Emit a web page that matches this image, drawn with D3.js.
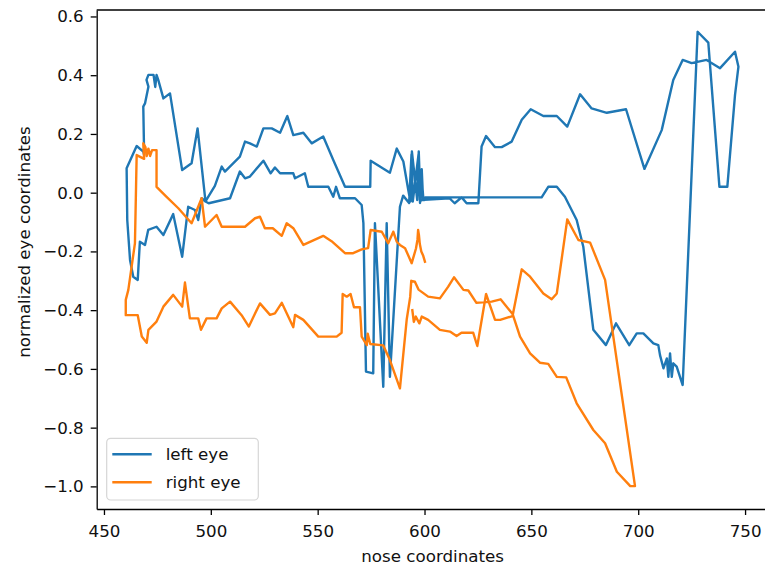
<!DOCTYPE html>
<html>
<head>
<meta charset="utf-8">
<script src="https://cdn.jsdelivr.net/npm/d3@7"></script>
<style>
  body { margin: 0; background: #fff; }
  svg { display: block; font-family: "DejaVu Sans", sans-serif; }
</style>
</head>
<body>
<div id="chart"></div>
<script>
const w = 765;
const h = 567;

// nose x coordinate and normalized eye value
const leftEyeX = [598.5, 611.7, 614.1, 617.4, 619.7, 625.2,
  626.7, 628.8, 633, 636.1, 640.8, 645.5, 649.7, 655.6, 661.9, 666.8, 672.8, 678.2, 685.3, 694.3,
  702.9, 711, 716.4, 720.8, 725, 732, 738.3, 745.3, 746.9, 745.3, 741.7, 738, 732.8, 727.8, 720.8,
  718, 716.4, 715.7, 714.9, 714.1, 713.4, 711.8, 710.2, 709.4, 707.1, 702.4, 699.3, 695.8, 689.6,
  684.9, 679, 674.3, 671.2, 665.7, 661.9, 657.9, 654.8, 600.5,
  599.3, 598.7, 598.1, 597.3, 596.6, 594.1, 593.4, 592.4,
  590.1, 587, 583.8, 574.8, 574.6, 562.8, 557.3, 552.6, 547.2, 543.3, 538.6, 535.8, 532.4, 528.5,
  524.6, 521.5, 518.3, 516, 513.6, 506.6, 505.1, 501.9, 497.5,
  493.8, 491, 486.6, 480.9, 477.8, 475.4, 474.6, 474, 473.2, 470.8, 469.9, 470.8, 469.2, 468.4,
  468.8, 468.4, 465.3, 460.6,
  460.9, 462.2, 463.7, 465.8, 466.8, 469.2, 470.7, 474.6, 477.8, 482.4, 486.6, 489.4, 492.6, 494.1,
  495.7, 497.5,
  499, 509, 513.6, 516, 518.3, 524.6, 528, 530, 532.4, 538.6, 539.4, 544, 545.6, 555, 557.3, 558.6,
  560.4, 567.5, 570.6, 571.4, 572.6, 576, 576.8, 580.7, 582.3, 583.8, 588.5,
  590, 592.8, 593.9, 594.5, 597.2, 597.9, 598.6, 599.5];
const leftEyeY = [-0.025, -0.019, -0.036, -0.016, -0.036, -0.036,
  0.157, 0.193, 0.155, 0.155, 0.174, 0.248, 0.284, 0.261, 0.261, 0.225, 0.335, 0.287, 0.272, 0.284,
  0.081, 0.213, 0.384, 0.452, 0.441, 0.452, 0.424, 0.480, 0.429, 0.333, 0.020, 0.020, 0.511, 0.548, -0.655,
  -0.592, -0.581, -0.627, -0.547, -0.627, -0.564, -0.598, -0.553, -0.519, -0.513, -0.479, -0.479, -0.519, -0.445,
  -0.519, -0.467, -0.184, -0.093, -0.014, 0.020, 0.020, -0.016, -0.016,
  -0.02, 0.080, -0.03, 0.140, -0.025, 0.140, -0.03, 0.009,
  0.106, 0.150, 0.068, 0.109, 0.020, 0.020, 0.111, 0.191, 0.168, 0.204, 0.196, 0.261, 0.204, 0.219,
  0.219, 0.157, 0.168, 0.174, 0.123, 0.072, 0.089, 0.023, -0.03,
  0.219, 0.100, 0.077, 0.338, 0.321, 0.384, 0.401, 0.360, 0.401, 0.401, 0.384, 0.361, 0.304, 0.293,
  0.128, 0.140, 0.159, 0.083,
  -0.093, -0.229, -0.286, -0.297, -0.167, -0.178, -0.127, -0.116, -0.144, -0.073, -0.218, -0.048, -0.059, -0.093,
  -0.019, -0.03,
  -0.036, -0.019, 0.072, 0.049, 0.055, 0.109, 0.066, 0.086, 0.066, 0.066, 0.049, 0.066, 0.020, 0.020, -0.014, 0.020,
  -0.019, -0.019, -0.042, -0.104, -0.609, -0.615, -0.104, -0.661, -0.104, -0.627, -0.048,
  -0.01, -0.035, 0.130, -0.03, 0.130, -0.035, 0.060, -0.025];

const rightEyeX = [600.2, 599.4, 598.5, 597.8, 597.4, 597, 596.7, 596, 594, 590.9, 588.5, 587, 585.4, 583,
  580, 574.8, 573.6, 570.6, 566.6, 562.8, 556.5, 552.6, 543.3, 538.6, 535.5, 533.2, 529, 525.3, 523,
  520.7, 516, 505.1, 502.7, 497.3, 495.7, 491, 484.8, 479.3, 474.6, 474.6, 472.5, 471.6, 470.8, 470,
  469.4, 468.4, 468.8, 465.3, 464.5, 461.4, 460.2, 460.2, 465.8, 467.7, 470, 470.8, 474.6, 477.8,
  482.4, 486.6, 487.9, 490.2, 494.1, 495.4, 498, 502.7, 505.1, 509, 514.4, 517.8, 520.7, 523, 527.7,
  530, 533.2, 538.6, 539.4, 543.3, 550.3, 558.9, 561.2, 561.7, 563.6, 565.4, 567, 569.8, 570.6, 573,
  573.4, 574.6, 580.7, 583.8, 588.5, 591.7, 593.3, 593.8, 595.5, 597.2, 601.7, 607.2, 611.1, 613.8,
  618.2, 620.5, 624.3, 631.4, 635.6, 641.2, 644.7, 649.4, 654, 657.9, 661.9, 666.3, 671.2, 679,
  684.5, 690, 696.3, 698.5, 684.5, 677.5, 672, 666.8, 661.9, 659.5, 655.6, 649.4, 645.5, 641.2,
  635.4, 633, 628.8, 624.7, 622.8, 617.3, 615, 611.9, 607.2, 601.7, 598.7, 597.6, 595.9, 595, 594.3];
const rightEyeY = [-0.235, -0.215, -0.200, -0.175, -0.145, -0.127, -0.160, -0.190, -0.240, -0.189, -0.178, -0.167, -0.133, -0.172,
  -0.133, -0.127, -0.189, -0.193, -0.206, -0.206, -0.165, -0.147, -0.178, -0.121, -0.104, -0.147, -0.121, -0.121, -0.082,
  -0.087, -0.116, -0.116, -0.076, -0.116, -0.019, -0.104, -0.053, -0.014, 0.020, 0.145, 0.145, 0.125, 0.150, 0.125,
  0.155, 0.168, 0.115, 0.128, -0.172, -0.331, -0.365, -0.417, -0.417, -0.490, -0.511, -0.467, -0.439, -0.388,
  -0.348, -0.388, -0.306, -0.428, -0.428, -0.467, -0.428, -0.428, -0.394, -0.371, -0.417, -0.456, -0.411, -0.377, -0.416,
  -0.411, -0.375, -0.458, -0.416, -0.433, -0.490, -0.490, -0.477, -0.345, -0.354, -0.345, -0.390, -0.390, -0.490, -0.519,
  -0.480, -0.515, -0.520, -0.570, -0.666, -0.430, -0.355, -0.300, -0.303, -0.330, -0.354, -0.360, -0.320, -0.288,
  -0.331, -0.333, -0.375, -0.371, -0.363, -0.413, -0.490, -0.547, -0.579, -0.583, -0.627, -0.629, -0.717, -0.808,
  -0.853, -0.950, -0.999, -0.999, -0.297, -0.170, -0.161, -0.091, -0.343, -0.363, -0.343, -0.286, -0.261, -0.420,
  -0.433, -0.433, -0.345, -0.522, -0.477, -0.477, -0.488, -0.473, -0.467, -0.433, -0.422, -0.445, -0.422, -0.440, -0.400];

const xTicks = [450, 500, 550, 600, 650, 700, 750];
const yTicks = [-1.0, -0.8, -0.6, -0.4, -0.2, 0.0, 0.2, 0.4, 0.6];

const plotLeft = 96.7, plotTop = 10, plotBottom = 509;
const fontSize = 16.7;

const svg = d3.select('#chart')
  .append('svg')
  .attr('width', w)
  .attr('height', h);

const xScale = d3.scaleLinear()
  .domain([446.6, 761])
  .range([plotLeft, plotLeft + (761 - 446.6) * 2.137]);
const yScale = d3.scaleLinear()
  .domain([-1.077, 0.622])
  .range([plotBottom, plotTop]);

svg.append('clipPath')
  .attr('id', 'plot-clip')
  .append('rect')
  .attr('x', plotLeft)
  .attr('y', plotTop)
  .attr('width', xScale.range()[1] - plotLeft)
  .attr('height', plotBottom - plotTop);

const line = d3.line()
  .x(d => xScale(d[0]))
  .y(d => yScale(d[1]));

const series = [
  { name: 'left eye', color: '#1f77b4', pts: d3.zip(leftEyeX, leftEyeY) },
  { name: 'right eye', color: '#ff7f0e', pts: d3.zip(rightEyeX, rightEyeY) }
];

const plot = svg.append('g').attr('clip-path', 'url(#plot-clip)');
series.forEach(s => {
  plot.append('path')
    .datum(s.pts)
    .attr('d', line)
    .attr('fill', 'none')
    .attr('stroke', s.color)
    .attr('stroke-width', 2.4)
    .attr('stroke-linejoin', 'round')
    .attr('stroke-linecap', 'square');
});

// axes
const xAxis = d3.axisBottom(xScale)
  .tickValues(xTicks)
  .tickFormat(d3.format('d'))
  .tickSize(6)
  .tickSizeOuter(0)
  .tickPadding(10.5);
const gx = svg.append('g')
  .attr('transform', 'translate(0,' + plotBottom + ')')
  .call(xAxis);

const yAxis = d3.axisLeft(yScale)
  .tickValues(yTicks)
  .tickFormat(d3.format('.1f'))
  .tickSize(6)
  .tickSizeOuter(0)
  .tickPadding(7);
const gy = svg.append('g')
  .attr('transform', 'translate(' + plotLeft + ',0)')
  .call(yAxis);

[gx, gy].forEach(g => {
  g.selectAll('path.domain').attr('stroke', '#000').attr('stroke-width', 1.3);
  g.selectAll('.tick line').attr('stroke', '#000').attr('stroke-width', 1.3);
  g.selectAll('.tick text')
    .style('font-size', fontSize + 'px')
    .style('font-family', '"DejaVu Sans", sans-serif')
    .attr('fill', '#111');
});

// top spine
svg.append('line')
  .attr('x1', plotLeft).attr('x2', w)
  .attr('y1', plotTop).attr('y2', plotTop)
  .attr('stroke', '#000')
  .attr('stroke-width', 1.3);

svg.append('text')
  .attr('x', (plotLeft + xScale.range()[1]) / 2)
  .attr('y', 562)
  .attr('text-anchor', 'middle')
  .style('font-size', fontSize + 'px')
  .attr('fill', '#111')
  .text('nose coordinates');

svg.append('text')
  .attr('transform', 'translate(30,242) rotate(-90)')
  .attr('text-anchor', 'middle')
  .style('font-size', fontSize + 'px')
  .attr('fill', '#111')
  .text('normalized eye coordinates');

// legend
const legend = svg.append('g').attr('id', 'legend');
legend.append('rect')
  .attr('x', 106.7)
  .attr('y', 438.3)
  .attr('width', 151.6)
  .attr('height', 61.7)
  .attr('rx', 4)
  .attr('fill', '#fff')
  .attr('fill-opacity', 0.8)
  .attr('stroke', '#d6d6d6')
  .attr('stroke-width', 1.2);

series.forEach((s, i) => {
  const ly = 454.3 + i * 28;
  legend.append('line')
    .attr('x1', 112.3).attr('x2', 151.7)
    .attr('y1', ly).attr('y2', ly)
    .attr('stroke', s.color)
    .attr('stroke-width', 2.4);
  legend.append('text')
    .attr('x', 165.7)
    .attr('y', ly)
    .attr('dy', '0.35em')
    .style('font-size', fontSize + 'px')
    .attr('fill', '#111')
    .text(s.name);
});
</script>
</body>
</html>
